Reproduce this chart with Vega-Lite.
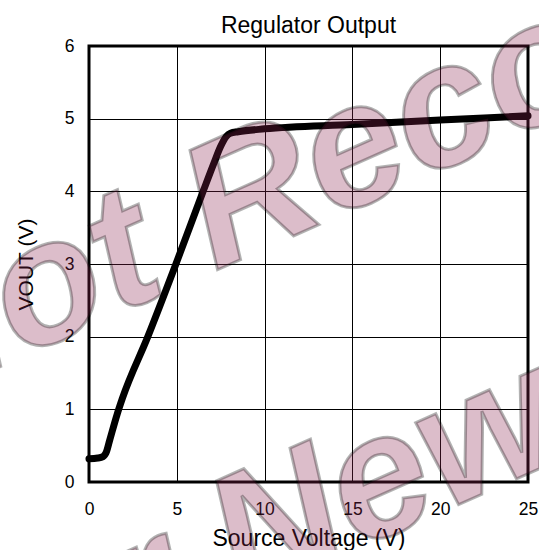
{
  "$schema": "https://vega.github.io/schema/vega-lite/v6.json",
  "width": 439,
  "height": 436,
  "autosize": {"type": "none"},
  "padding": {"left": 89, "top": 46, "right": 11, "bottom": 68},
  "background": "white",
  "config": {
    "view": {"stroke": "#000", "strokeWidth": 3},
    "font": "Liberation Sans",
    "axis": {
      "domain": false,
      "ticks": false,
      "tickSize": 0,
      "grid": true,
      "gridColor": "#000",
      "gridWidth": 1,
      "labelFont": "Liberation Sans",
      "labelFontSize": 17.5,
      "labelColor": "#000",
      "labelFlush": false,
      "titleFont": "Liberation Sans",
      "titleFontWeight": "normal",
      "titleColor": "#000"
    }
  },
  "title": {
    "text": "Regulator Output",
    "fontSize": 23,
    "fontWeight": "normal",
    "font": "Liberation Sans",
    "color": "#000",
    "frame": "group",
    "anchor": "middle",
    "baseline": "alphabetic",
    "offset": 16,
    "dy": 439
  },
  "datasets": {
    "curve": [
      {"source_v": 0, "vout": 0.32},
      {"source_v": 0.5, "vout": 0.33},
      {"source_v": 0.8, "vout": 0.35},
      {"source_v": 1.0, "vout": 0.42},
      {"source_v": 1.15, "vout": 0.55},
      {"source_v": 1.3, "vout": 0.68},
      {"source_v": 1.6, "vout": 0.93},
      {"source_v": 1.9, "vout": 1.15},
      {"source_v": 3.35, "vout": 2.0},
      {"source_v": 4.95, "vout": 3.0},
      {"source_v": 6.5, "vout": 4.0},
      {"source_v": 7.1, "vout": 4.38},
      {"source_v": 7.5, "vout": 4.62},
      {"source_v": 7.8, "vout": 4.75},
      {"source_v": 8.05, "vout": 4.8},
      {"source_v": 8.5, "vout": 4.82},
      {"source_v": 10, "vout": 4.86},
      {"source_v": 15, "vout": 4.92},
      {"source_v": 20, "vout": 4.98},
      {"source_v": 25, "vout": 5.04}
    ],
    "watermark1": [{"label": "Not Recommended"}],
    "watermark2": [{"label": "for New Designs"}]
  },
  "layer": [
    {
      "data": {"name": "curve"},
      "mark": {"type": "line", "color": "#000", "strokeWidth": 7, "strokeCap": "round", "strokeJoin": "round", "interpolate": "monotone"},
      "encoding": {
        "x": {
          "field": "source_v",
          "type": "quantitative",
          "scale": {"domain": [0, 25], "nice": false, "zero": false},
          "axis": {"values": [0, 5, 10, 15, 20, 25], "format": "d", "title": "Source Voltage (V)", "titleFontSize": 23, "labelPadding": 18, "titleBaseline": "alphabetic", "titleY": 63}
        },
        "y": {
          "field": "vout",
          "type": "quantitative",
          "scale": {"domain": [0, 6], "nice": false},
          "axis": {"values": [0, 1, 2, 3, 4, 5, 6], "format": "d", "title": "VOUT (V)", "titleFontSize": 21, "labelPadding": 15, "titleBaseline": "alphabetic", "titleX": -57}
        }
      }
    },
    {
      "data": {"name": "watermark1"},
      "mark": {"type": "text", "align": "left", "baseline": "alphabetic", "angle": -24, "font": "Liberation Sans", "fontSize": 175, "fontStyle": "italic", "fontWeight": "bold", "fill": "#8a264e", "fillOpacity": 0.3, "stroke": "#000", "strokeOpacity": 0.3, "strokeWidth": 3},
      "encoding": {"x": {"datum": -10.53}, "y": {"datum": 0.999}, "text": {"field": "label"}}
    },
    {
      "data": {"name": "watermark2"},
      "mark": {"type": "text", "align": "left", "baseline": "alphabetic", "angle": -24, "font": "Liberation Sans", "fontSize": 175, "fontStyle": "italic", "fontWeight": "bold", "fill": "#8a264e", "fillOpacity": 0.3, "stroke": "#000", "strokeOpacity": 0.3, "strokeWidth": 3},
      "encoding": {"x": {"datum": -6.0}, "y": {"datum": -3.223}, "text": {"field": "label"}}
    }
  ]
}
